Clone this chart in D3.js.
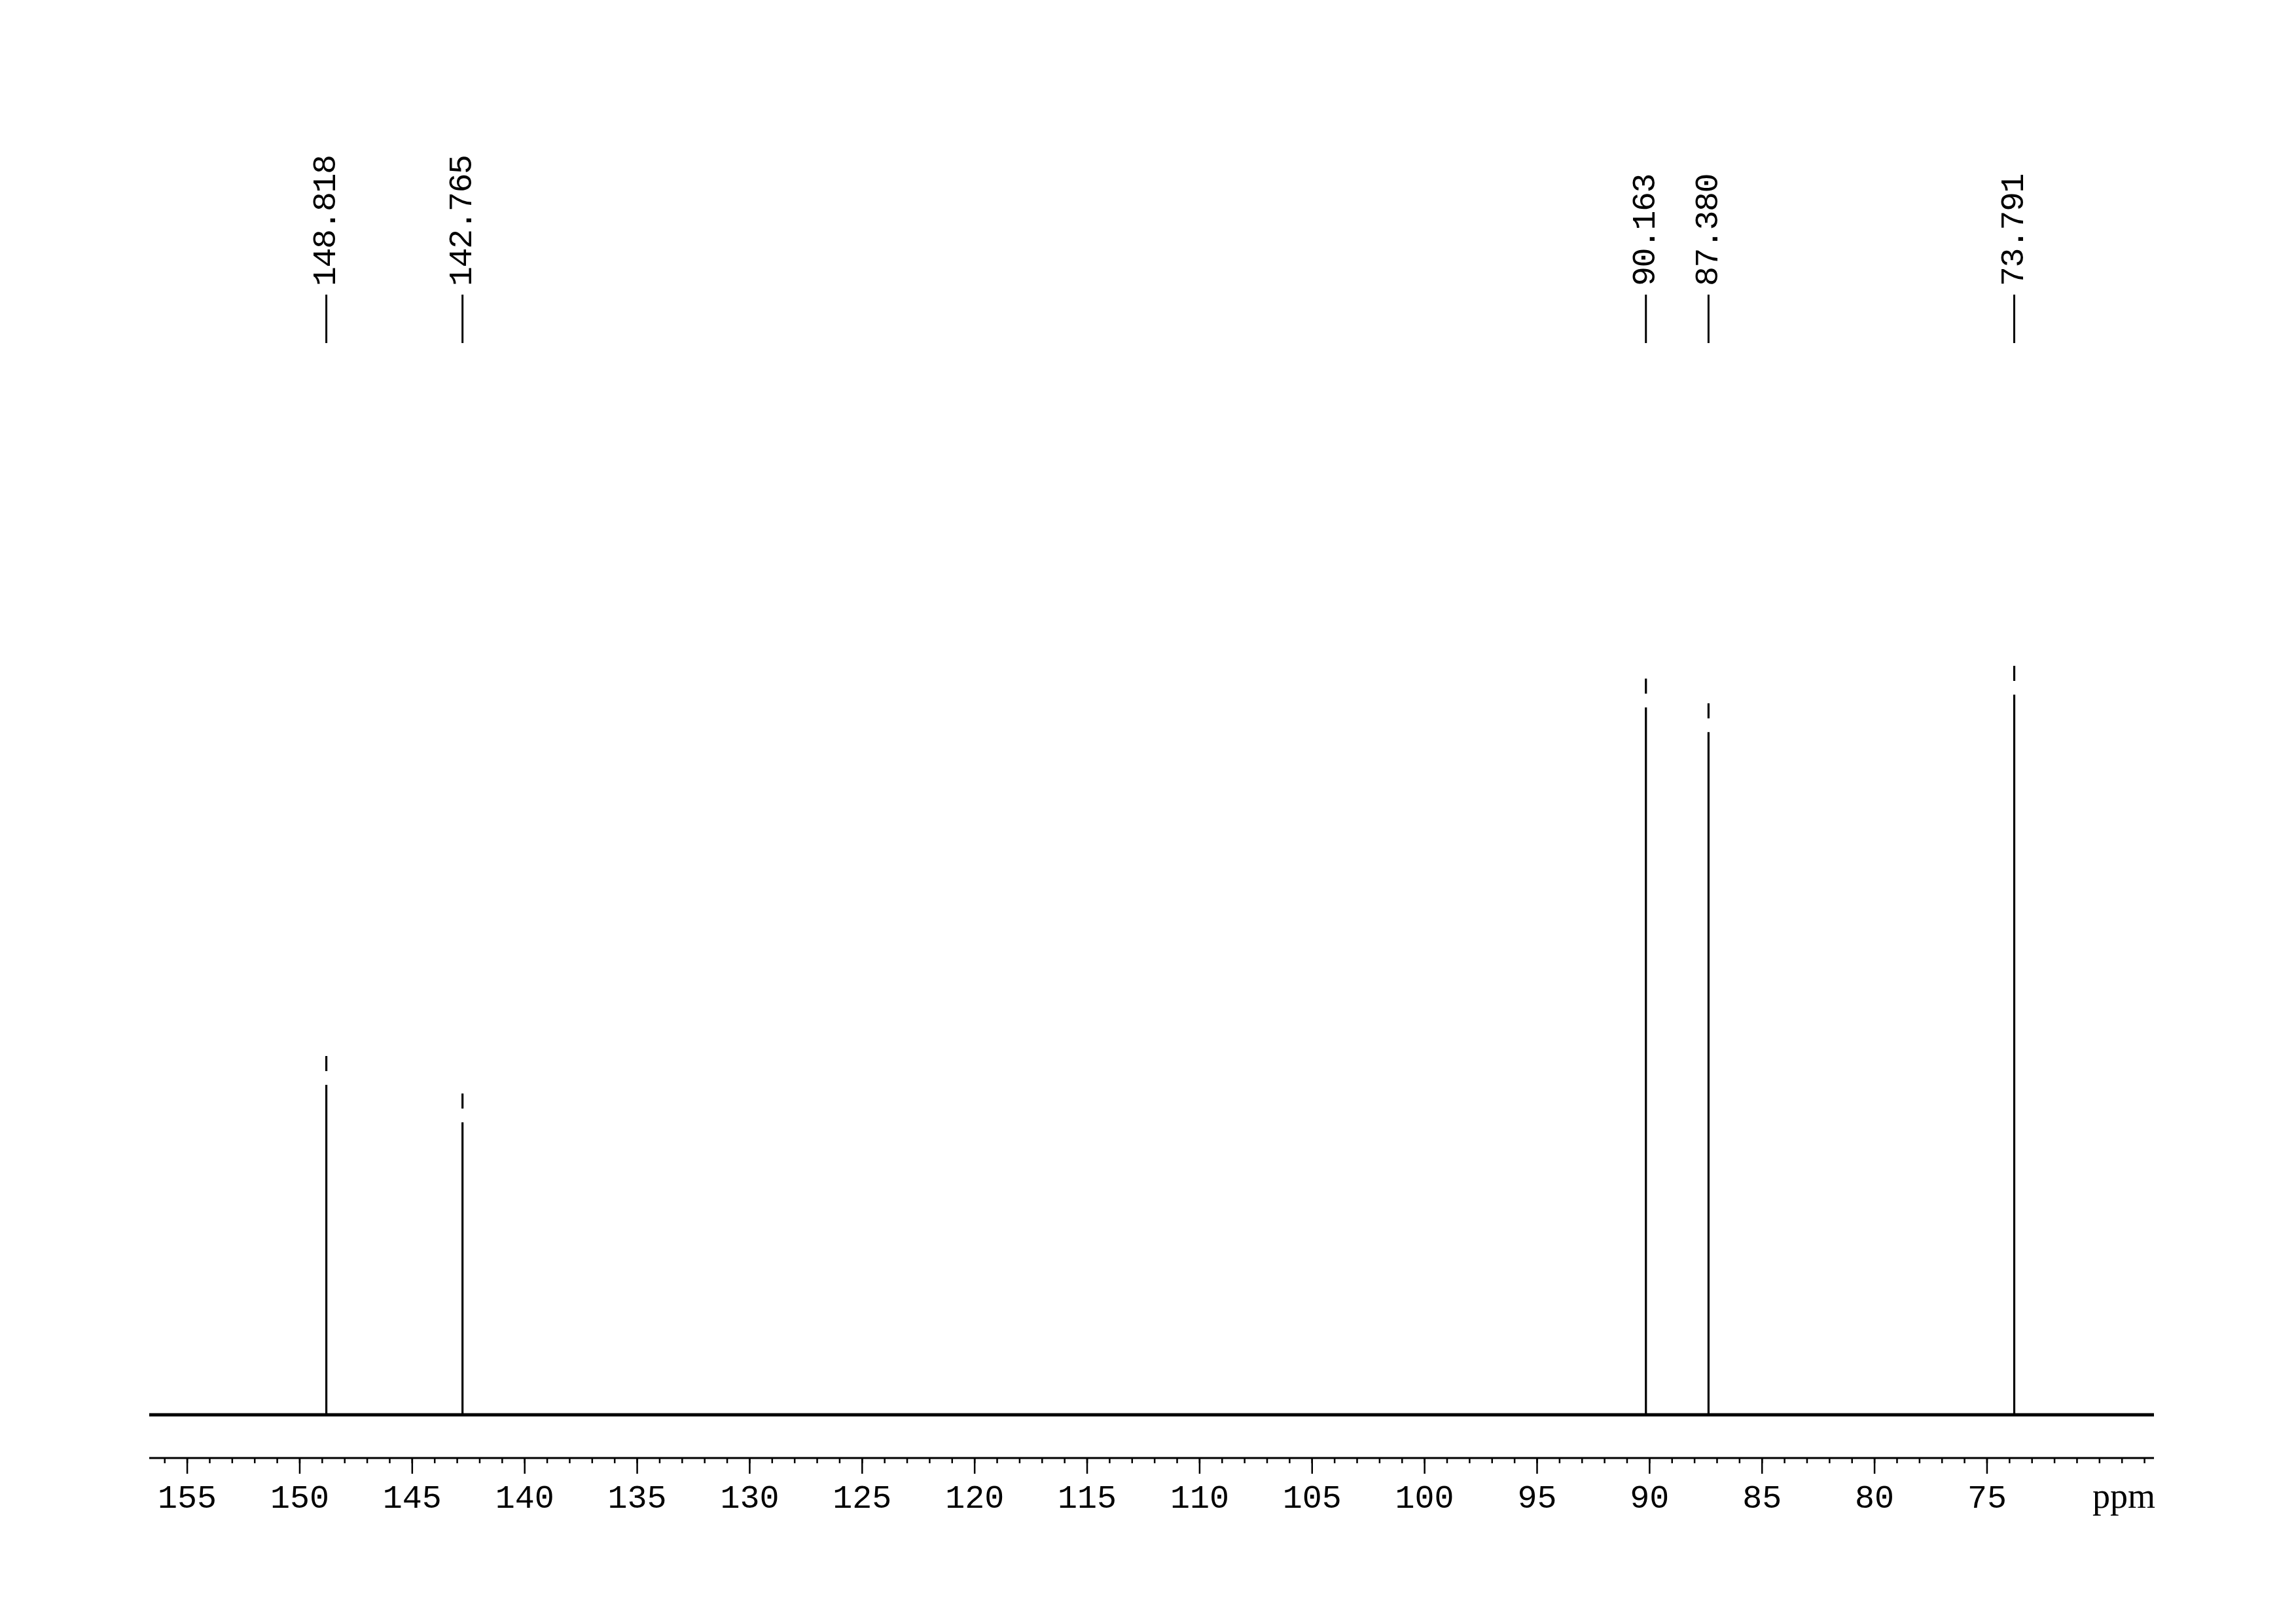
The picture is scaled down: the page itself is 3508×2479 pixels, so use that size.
<!DOCTYPE html>
<html>
<head>
<meta charset="utf-8">
<script src="https://cdn.jsdelivr.net/npm/d3@7"></script>
<style>
  html, body { margin: 0; padding: 0; background: #fff; }
  svg { display: block; }
  text { font-family: "Liberation Mono", "DejaVu Sans Mono", monospace; fill: #000; }
</style>
</head>
<body>
<script>
// ---- Data ----
const peakShifts  = [148.818, 142.765, 90.163, 87.380, 73.791];   // ppm
const peakHeights = [47.9, 42.9, 98.3, 95.0, 100.0];               // relative intensity
const peakLabels  = ["148.818", "142.765", "90.163", "87.380", "73.791"];
const ppmRange    = [156.69, 67.58];                                // displayed window (left -> right)
const majorTicks  = [155, 150, 145, 140, 135, 130, 125, 120, 115, 110, 105, 100, 95, 90, 85, 80, 75];
const minorTicks  = d3.range(68, 157, 1);
const axisUnit    = "ppm";

// ---- Layout ----
const W = 3508, H = 2479;
const xLeft = 228, xRight = 3291;
const yBase = 2161, yTop = 1017;
const yAxis = 2227;

const svg = d3.select("body").append("svg").attr("width", W).attr("height", H);

const x = d3.scaleLinear().domain(ppmRange).range([xLeft, xRight]);
const y = d3.scaleLinear().domain([0, 100]).range([yBase, yTop]);

// baseline of spectrum
svg.append("line")
  .attr("x1", x(ppmRange[0])).attr("x2", x(ppmRange[1]))
  .attr("y1", y(0)).attr("y2", y(0))
  .attr("stroke", "#000").attr("stroke-width", 5);

const peaks = peakShifts.map((p, i) => ({ppm: p, h: peakHeights[i], label: peakLabels[i]}));

// peaks (drawn from top down, with the small break below the tip seen in the plot)
svg.append("g").selectAll("line").data(peaks).join("line")
  .attr("x1", d => x(d.ppm)).attr("x2", d => x(d.ppm))
  .attr("y1", d => y(d.h)).attr("y2", y(0))
  .attr("stroke", "#000").attr("stroke-width", 3.2)
  .attr("stroke-dasharray", "23 21 5000");

// peak label ticks
svg.append("g").selectAll("line").data(peaks).join("line")
  .attr("x1", d => x(d.ppm)).attr("x2", d => x(d.ppm))
  .attr("y1", 450).attr("y2", 524)
  .attr("stroke", "#000").attr("stroke-width", 3);

// peak labels (rotated)
svg.append("g").selectAll("text").data(peaks).join("text")
  .attr("transform", d => `translate(${x(d.ppm)},437) rotate(-90)`)
  .attr("text-anchor", "start")
  .attr("dominant-baseline", "central")
  .attr("font-size", 50)
  .attr("letter-spacing", "-1.5px")
  .text(d => d.label);

// x axis
const axisG = svg.append("g");
axisG.append("line")
  .attr("x1", xLeft).attr("x2", xRight)
  .attr("y1", yAxis).attr("y2", yAxis)
  .attr("stroke", "#000").attr("stroke-width", 3);

axisG.selectAll("line.minor").data(minorTicks.filter(t => t >= ppmRange[1] && t <= ppmRange[0])).join("line")
  .attr("class", "minor")
  .attr("x1", d => x(d)).attr("x2", d => x(d))
  .attr("y1", yAxis).attr("y2", yAxis + 8)
  .attr("stroke", "#000").attr("stroke-width", 2.5);

axisG.selectAll("line.major").data(majorTicks).join("line")
  .attr("class", "major")
  .attr("x1", d => x(d)).attr("x2", d => x(d))
  .attr("y1", yAxis).attr("y2", yAxis + 24)
  .attr("stroke", "#000").attr("stroke-width", 2.5);

axisG.selectAll("text.tick").data(majorTicks).join("text")
  .attr("class", "tick")
  .attr("x", d => x(d)).attr("y", 2303)
  .attr("text-anchor", "middle")
  .attr("font-size", 50)
  .text(d => d);

axisG.append("text")
  .attr("x", xRight + 2).attr("y", 2303)
  .attr("text-anchor", "end")
  .attr("font-size", 54)
  .style("font-family", "'Liberation Serif', serif")
  .text(axisUnit);
</script>
</body>
</html>
